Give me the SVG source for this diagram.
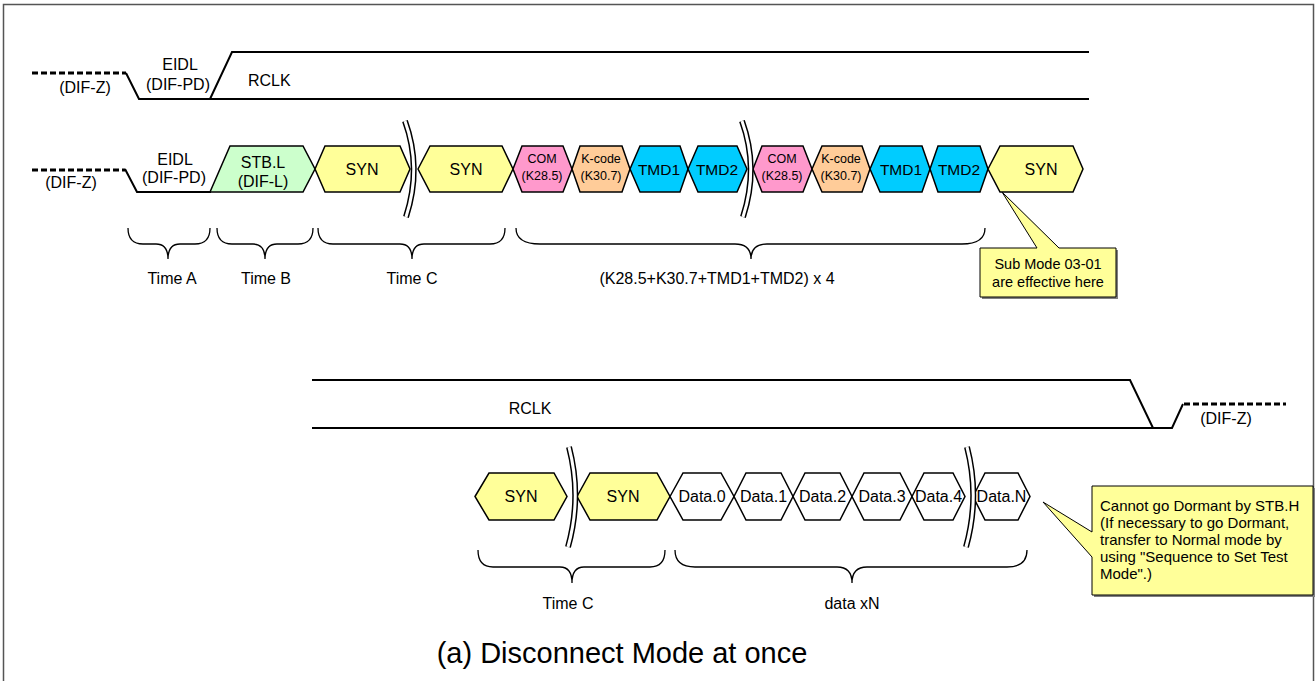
<svg xmlns="http://www.w3.org/2000/svg" width="1316" height="681" viewBox="0 0 1316 681">
<style>
text{font-family:"Liberation Sans",Arial,sans-serif;fill:#000}
.t15{font-size:16px}
.tm{font-size:15.5px}
.t12{font-size:12.5px}
.c{text-anchor:middle}
.hex{stroke:#000;stroke-width:1.5;stroke-linejoin:miter}
.syn{fill:#FFFF99}
.com{fill:#FF99CC}
.kc{fill:#FFCC99}
.tmd{fill:#00CCFF}
.dat{fill:#fff}
.stb{fill:#CCFFCC}
.sig{fill:none;stroke:#000;stroke-width:2}
.dash{fill:none;stroke:#000;stroke-width:3;stroke-dasharray:6 3}
.brace{fill:none;stroke:#000;stroke-width:1.3}
.brk1{fill:none;stroke:#000;stroke-width:6}
.brk2{fill:none;stroke:#fff;stroke-width:3}
.call{fill:#FFFF99;stroke:#000;stroke-width:1}
.shadow{fill:#808080}
.ct{font-size:14.5px}
.ct2{font-size:15px}
</style>
<rect x="3.5" y="4.5" width="1310" height="700" fill="#fff" stroke="#555" stroke-width="1.5"/>

<g id="signals">
  <path class="dash" d="M32,73 L126,73"/>
  <path class="sig" d="M126,73 L139,99 L1089,99"/>
  <path class="sig" d="M210,99 L232,52 L1089,52"/>
  <path class="dash" d="M32,170 L125,170"/>
  <path class="sig" d="M125,169 L137,192 L211,192"/>
  <path class="sig" d="M312,380 L1130,380 L1153,428"/>
  <path class="sig" d="M312,428 L1172,428 L1183,404"/>
  <path class="dash" d="M1184,404 L1286,404"/>
</g>

<g id="row1-labels">
  <text class="t15 c" x="85" y="93">(DIF-Z)</text>
  <text class="t15 c" x="180" y="70">EIDL</text>
  <text class="t15 c" x="178" y="90">(DIF-PD)</text>
  <text class="t15" x="248" y="86">RCLK</text>
</g>

<g id="row2-labels">
  <text class="t15 c" x="71" y="188">(DIF-Z)</text>
  <text class="t15 c" x="175" y="165">EIDL</text>
  <text class="t15 c" x="174" y="183">(DIF-PD)</text>
</g>

<g id="stb">
  <polygon class="hex stb" points="210,192 230,146 303,146 315,169 303,192"/>
  <text class="t15 c" x="263" y="168">STB.L</text>
  <text class="t15 c" x="263" y="187">(DIF-L)</text>
</g>

<g id="syn1"><polygon class="hex syn" points="315,169 325,146 400,146 410,169 400,192 325,192"/><text class="t15 c" x="362" y="175">SYN</text></g>
<g id="syn2"><polygon class="hex syn" points="418,169 430,146 502,146 513,169 502,192 430,192"/><text class="t15 c" x="466" y="175">SYN</text></g>
<g id="com1"><polygon class="hex com" points="513,169 522,146 563,146 572,169 563,192 522,192"/><text class="t12 c" x="542" y="163">COM</text><text class="t12 c" x="542" y="180">(K28.5)</text></g>
<g id="kcode1"><polygon class="hex kc" points="572,169 580,146 622,146 630,169 622,192 580,192"/><text class="t12 c" x="601" y="163">K-code</text><text class="t12 c" x="601" y="180">(K30.7)</text></g>
<g id="tmd1a"><polygon class="hex tmd" points="630,169 640,146 680,146 688,169 680,192 640,192"/><text class="tm c" x="659" y="175">TMD1</text></g>
<g id="tmd2a"><polygon class="hex tmd" points="688,169 698,146 737,146 747,169 737,192 698,192"/><text class="tm c" x="717" y="175">TMD2</text></g>
<g id="com2"><polygon class="hex com" points="753,169 762,146 803,146 812,169 803,192 762,192"/><text class="t12 c" x="782" y="163">COM</text><text class="t12 c" x="782" y="180">(K28.5)</text></g>
<g id="kcode2"><polygon class="hex kc" points="812,169 822,146 862,146 870,169 862,192 822,192"/><text class="t12 c" x="841" y="163">K-code</text><text class="t12 c" x="841" y="180">(K30.7)</text></g>
<g id="tmd1b"><polygon class="hex tmd" points="870,169 880,146 922,146 930,169 922,192 880,192"/><text class="tm c" x="901" y="175">TMD1</text></g>
<g id="tmd2b"><polygon class="hex tmd" points="930,169 938,146 980,146 988,169 980,192 938,192"/><text class="tm c" x="959" y="175">TMD2</text></g>
<g id="syn3"><polygon class="hex syn" points="988,169 1000,146 1073,146 1083,169 1073,192 1000,192"/><text class="t15 c" x="1041" y="175">SYN</text></g>

<g id="row4">
  <g id="syn4"><polygon class="hex syn" points="475,496.5 489,473 554,473 567,496.5 554,520 489,520"/><text class="t15 c" x="521" y="502">SYN</text></g>
  <g id="syn5"><polygon class="hex syn" points="577,496.5 590,473 657,473 670,496.5 657,520 590,520"/><text class="t15 c" x="623" y="502">SYN</text></g>
  <g id="data0"><polygon class="hex dat" points="670,496.5 683,473 721,473 734,496.5 721,520 683,520"/><text class="t15 c" x="702" y="502">Data.0</text></g>
  <g id="data1"><polygon class="hex dat" points="734,496.5 746,473 781,473 793,496.5 781,520 746,520"/><text class="t15 c" x="763.5" y="502">Data.1</text></g>
  <g id="data2"><polygon class="hex dat" points="793,496.5 805,473 840,473 852,496.5 840,520 805,520"/><text class="t15 c" x="822.5" y="502">Data.2</text></g>
  <g id="data3"><polygon class="hex dat" points="852,496.5 864,473 900,473 912,496.5 900,520 864,520"/><text class="t15 c" x="882" y="502">Data.3</text></g>
  <g id="data4"><polygon class="hex dat" points="912,496.5 924,473 953,473 965,496.5 953,520 924,520"/><text class="t15 c" x="938.5" y="502">Data.4</text></g>
  <g id="dataN"><polygon class="hex dat" points="973,496.5 985,473 1018,473 1030,496.5 1018,520 985,520"/><text class="t15 c" x="1001.5" y="502">Data.N</text></g>
</g>

<g id="breaks">
  <path class="brk1" d="M405,121 Q422,168 406,217"/><path class="brk2" d="M405,121 Q422,168 406,217"/>
  <path class="brk1" d="M742,121 Q759,168 743,217"/><path class="brk2" d="M742,121 Q759,168 743,217"/>
  <path class="brk1" d="M569,447 Q582,497 568,547"/><path class="brk2" d="M569,447 Q582,497 568,547"/>
  <path class="brk1" d="M967,447 Q980,497 966,547"/><path class="brk2" d="M967,447 Q980,497 966,547"/>
</g>

<g id="braces">
  <path class="brace" d="M128,228 Q128,244 143,244 L156,244 Q168,244 168,259 Q168,244 180,244 L195,244 Q210,244 210,228"/>
  <path class="brace" d="M217,228 Q217,244 232,244 L253,244 Q265,244 265,259 Q265,244 277,244 L298,244 Q313,244 313,228"/>
  <path class="brace" d="M318,228 Q318,244 333,244 L400,244 Q412,244 412,259 Q412,244 424,244 L490,244 Q505,244 505,228"/>
  <path class="brace" d="M516,228 Q516,244 540,244 L735,244 Q751,244 751,259 Q751,244 767,244 L962,244 Q985,244 985,228"/>
  <path class="brace" d="M478,550 Q478,567 493,567 L560,567 Q572,567 572,583 Q572,567 584,567 L650,567 Q665,567 665,550"/>
  <path class="brace" d="M675,550 Q675,567 695,567 L837,567 Q852,567 852,583 Q852,567 867,567 L1007,567 Q1027,567 1027,550"/>
</g>

<g id="brace-labels">
  <text class="t15 c" x="172" y="284">Time A</text>
  <text class="t15 c" x="266" y="284">Time B</text>
  <text class="t15 c" x="412" y="284">Time C</text>
  <text class="t15 c" x="717" y="284">(K28.5+K30.7+TMD1+TMD2) x 4</text>
  <text class="t15 c" x="568" y="609">Time C</text>
  <text class="t15 c" x="852" y="609">data xN</text>
</g>

<g id="row3-labels">
  <text class="t15 c" x="530" y="414">RCLK</text>
  <text class="t15 c" x="1226" y="424">(DIF-Z)</text>
</g>

<g id="callout1">
  <polygon class="shadow" points="982,250 1039,250 1004,194 1061,250 1118,250 1118,299 982,299"/>
  <polygon class="call" points="980,248 1037,248 1002,192 1059,248 1116,248 1116,297 980,297"/>
  <text class="ct c" x="1048" y="269">Sub Mode 03-01</text>
  <text class="ct c" x="1048" y="287">are effective here</text>
</g>

<g id="callout2">
  <polygon class="shadow" points="1094,488 1315,488 1315,597 1094,597 1094,559 1045,504 1094,534"/>
  <polygon class="call" points="1092,486 1313,486 1313,595 1092,595 1092,557 1043,502 1092,532"/>
  <text class="ct2" x="1100" y="511">Cannot go Dormant by STB.H</text>
  <text class="ct2" x="1100" y="528">(If necessary to go Dormant,</text>
  <text class="ct2" x="1100" y="545">transfer to Normal mode by</text>
  <text class="ct2" x="1100" y="562">using "Sequence to Set Test</text>
  <text class="ct2" x="1100" y="579">Mode".)</text>
</g>

<text id="title" class="c" font-size="29" x="622" y="663">(a) Disconnect Mode at once</text>
</svg>
